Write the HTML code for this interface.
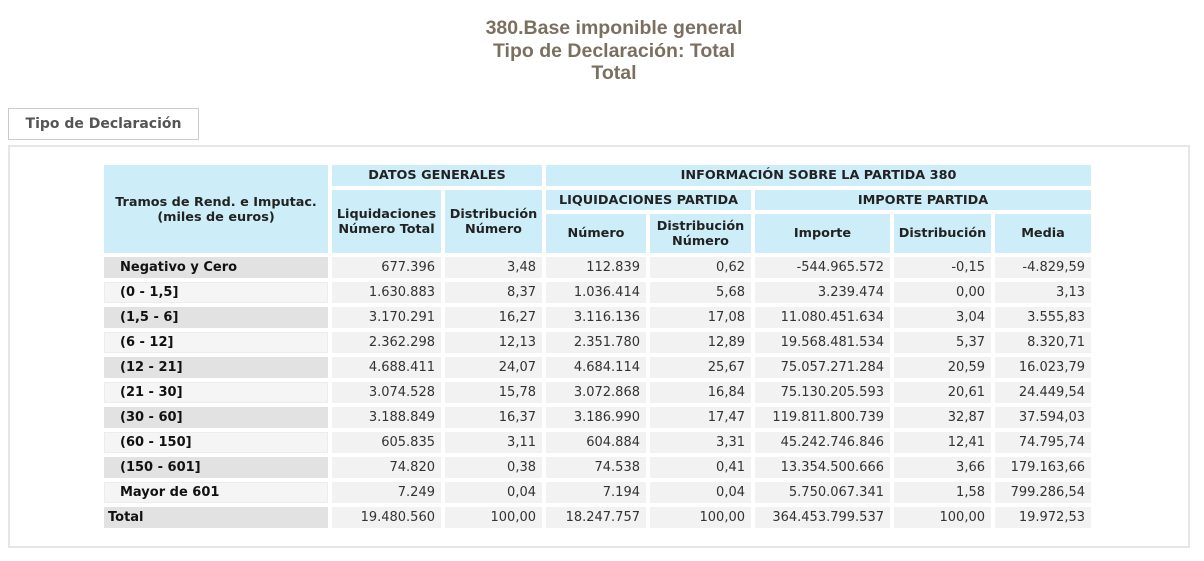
<!DOCTYPE html>
<html><head><meta charset="utf-8">
<style>
body{margin:0;width:1204px;height:561px;background:#fff;position:relative;overflow:hidden;font-family:"DejaVu Sans","Liberation Sans",sans-serif;}
.title{position:absolute;left:0;width:1228px;top:17px;text-align:center;font-family:"Liberation Sans",sans-serif;font-weight:bold;font-size:19.5px;line-height:22.5px;color:#7b6f60;}
.tab{position:absolute;left:8px;top:108px;width:191px;height:32px;border:1px solid #ccc;box-sizing:border-box;font-weight:bold;font-size:14px;color:#555;line-height:31px;text-align:center;background:#fff;}
.panel{position:absolute;left:8px;top:145px;width:1182px;height:403px;border:2px solid #e6e6e6;box-sizing:border-box;}
table{position:absolute;left:100px;top:161px;border-collapse:separate;border-spacing:4px;table-layout:fixed;}
td{padding:0 4px;font-size:13px;color:#333;white-space:nowrap;overflow:hidden;}
.h{background:#cdeef8;font-weight:bold;text-align:center;color:#222;line-height:15px;font-size:12.8px;padding:0 1px;}
.lbl{font-weight:bold;color:#111;padding-left:16px;}
.g{background:#e2e2e2;}
.w{background:#f5f5f5;box-shadow:inset 0 0 0 1px #ececec;}
.d{background:#f2f2f2;text-align:right;padding-right:6px;}
tr.dr td{height:21px;}
</style></head><body>
<div class="title">380.Base imponible general<br>Tipo de Declaración: Total<br>Total</div>
<div class="tab">Tipo de Declaración</div>
<div class="panel"></div>
<table id="t">
<colgroup><col style="width:224px"><col style="width:109px"><col style="width:97px"><col style="width:100px"><col style="width:101px"><col style="width:135px"><col style="width:97px"><col style="width:96px"></colgroup>
<tr style="height:21px"><td class="h" rowspan="3" style="vertical-align:top;padding-top:30px">Tramos de Rend. e Imputac.<br>(miles de euros)</td><td class="h" colspan="2">DATOS GENERALES</td><td class="h" colspan="5">INFORMACIÓN SOBRE LA PARTIDA 380</td></tr>
<tr style="height:20px"><td class="h" rowspan="2">Liquidaciones<br>Número Total</td><td class="h" rowspan="2">Distribución<br>Número</td><td class="h" colspan="2">LIQUIDACIONES PARTIDA</td><td class="h" colspan="3">IMPORTE PARTIDA</td></tr>
<tr style="height:39px"><td class="h">Número</td><td class="h">Distribución<br>Número</td><td class="h">Importe</td><td class="h">Distribución</td><td class="h">Media</td></tr>
</table>
<script>
const labels=["Negativo y Cero","(0 - 1,5]","(1,5 - 6]","(6 - 12]","(12 - 21]","(21 - 30]","(30 - 60]","(60 - 150]","(150 - 601]","Mayor de 601","Total"];
const liqTotal=["677.396","1.630.883","3.170.291","2.362.298","4.688.411","3.074.528","3.188.849","605.835","74.820","7.249","19.480.560"];
const distNum=["3,48","8,37","16,27","12,13","24,07","15,78","16,37","3,11","0,38","0,04","100,00"];
const numero=["112.839","1.036.414","3.116.136","2.351.780","4.684.114","3.072.868","3.186.990","604.884","74.538","7.194","18.247.757"];
const distNumP=["0,62","5,68","17,08","12,89","25,67","16,84","17,47","3,31","0,41","0,04","100,00"];
const importe=["-544.965.572","3.239.474","11.080.451.634","19.568.481.534","75.057.271.284","75.130.205.593","119.811.800.739","45.242.746.846","13.354.500.666","5.750.067.341","364.453.799.537"];
const distImp=["-0,15","0,00","3,04","5,37","20,59","20,61","32,87","12,41","3,66","1,58","100,00"];
const media=["-4.829,59","3,13","3.555,83","8.320,71","16.023,79","24.449,54","37.594,03","74.795,74","179.163,66","799.286,54","19.972,53"];
const t=document.getElementById('t');
const cols=[liqTotal,distNum,numero,distNumP,importe,distImp,media];
const cn=['liquidaciones-total','distribucion-numero','numero','distribucion-numero-partida','importe','distribucion','media'];
labels.forEach((l,i)=>{
  const tr=document.createElement('tr');tr.className='dr';
  
  
  const td=document.createElement('td');
  td.className='lbl '+(i%2==0?'g':'w');
  if(i==labels.length-1){td.className='lbl g';td.style.paddingLeft='4px';}
  td.textContent=l;
  
  
  tr.appendChild(td);
  cols.forEach((c,j)=>{
    const d=document.createElement('td');d.className='d';d.textContent=c[i];
    
    
    tr.appendChild(d);
  });
  t.appendChild(tr);
});
</script>
</body></html>
